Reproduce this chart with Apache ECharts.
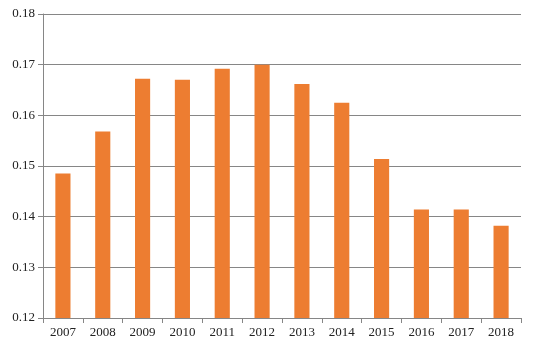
<!DOCTYPE html>
<html><head><meta charset="utf-8">
<script src="https://cdn.jsdelivr.net/npm/echarts@6/dist/echarts.min.js"></script>
<style>html,body{margin:0;padding:0;background:#fff}#c{width:535px;height:350px}</style>
</head><body><div id="c"></div>
<script>
const categories = ['2007','2008','2009','2010','2011','2012','2013','2014','2015','2016','2017','2018'];
const values = [0.1485,0.1568,0.1672,0.1670,0.1692,0.1700,0.1662,0.1625,0.1514,0.1414,0.1414,0.1382];
const yMin = 0.12, yMax = 0.18, yStep = 0.01;
const chart = echarts.init(document.getElementById('c'));
const font = {fontFamily:'Liberation Serif', fontSize:13, color:'#222'};
chart.setOption({
  animation:false,
  grid:{left:43, right:14, top:14, bottom:32},
  xAxis:{type:'category', data:categories,
    axisLine:{lineStyle:{color:'#868686', width:1}},
    axisTick:{show:true, length:5, lineStyle:{color:'#868686'}},
    axisLabel:Object.assign({margin:8}, font)},
  yAxis:{type:'value', min:yMin, max:yMax, interval:yStep,
    axisLine:{show:true, lineStyle:{color:'#868686'}},
    axisTick:{show:true, length:5, lineStyle:{color:'#868686'}},
    axisLabel:Object.assign({margin:8, formatter:v=>v.toFixed(2)}, font),
    splitLine:{lineStyle:{color:'#868686', width:1}}},
  series:[{type:'bar', data:values, barWidth:'38%', itemStyle:{color:'#ED7D31'}}]
});
</script></body></html>
